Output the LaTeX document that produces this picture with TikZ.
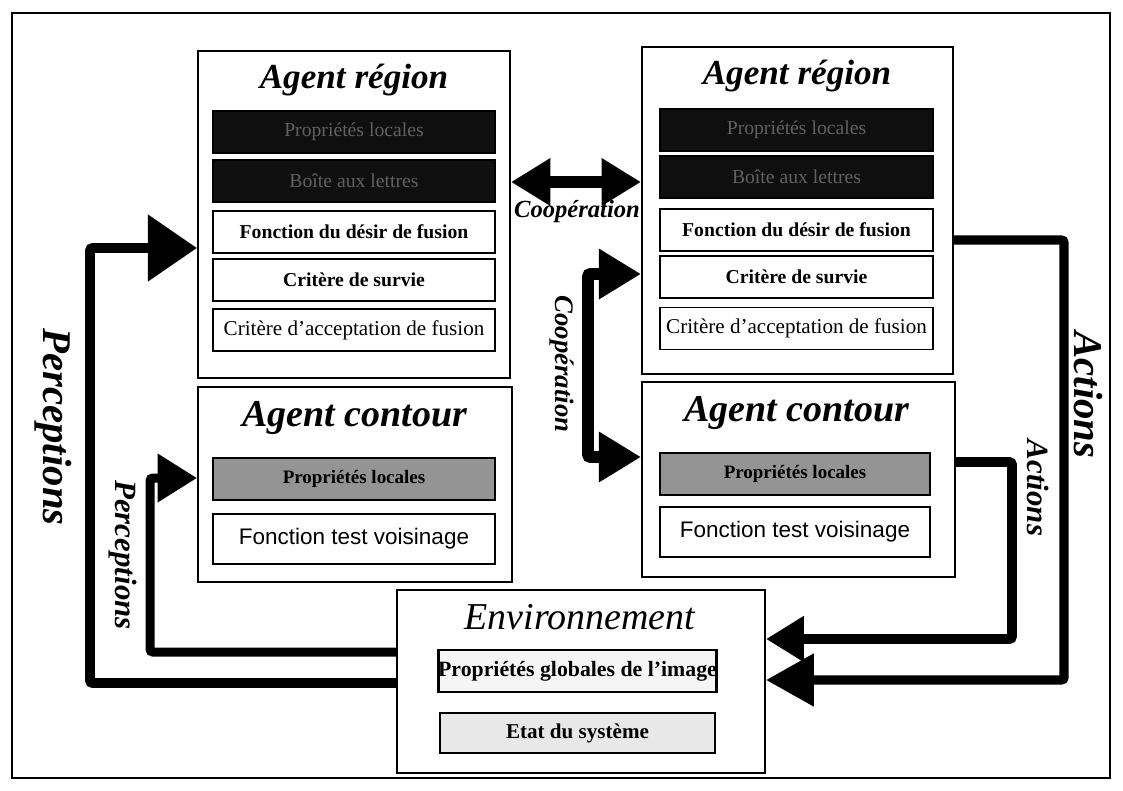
\documentclass[tikz,border=0pt]{standalone}
\usepackage{fontspec}
\setmainfont{Liberation Serif}
\newfontfamily\arialfont{Liberation Sans}
\usetikzlibrary{arrows.meta}

% one drawing unit = one pixel of the final page
\def\pxu{0.025cm}
\newcommand\fsz[1]{\fontsize{#1}{#1}\selectfont}

\begin{document}
\begin{tikzpicture}[x=0.025cm,y=-0.025cm,
  agentbox/.style={draw, line width=1.4pt, inner sep=0pt},
  bar/.style={draw, line width=1.4pt, inner sep=0pt, minimum height=42*\pxu},
  leftbar/.style={bar, minimum width=282*\pxu},
  rightbar/.style={bar, minimum width=273*\pxu},
  darkbar/.style={fill=black!94, text=black!62, font=\fsz{14}},
  itemb/.style={font=\bfseries\fsz{14}},
  itemr/.style={font=\fsz{15}},
  greybar/.style={fill=black!42, font=\bfseries\fsz{13.5}},
  testbar/.style={minimum height=50*\pxu, font=\arialfont\fsz{16}},
  envbar/.style={bar, minimum width=275*\pxu, font=\bfseries\fsz{15.5}},
  title/.style={font=\bfseries\itshape\fsz{25}, inner sep=0pt},
  flowlabel/.style={font=\bfseries\itshape, inner sep=0pt, rotate=-90},
  flow/.style={line width=#1, rounded corners=2pt},
]
\useasboundingbox (0,0) rectangle (1123,790);
\fill[white] (0,0) rectangle (1123,790);

% outer frame
\draw[line width=1pt] (12,13) rectangle (1110,778);

% ---------- left agent region ----------
\node[agentbox, minimum width=312*\pxu, minimum height=327*\pxu] (L) at (354,214.5) {};
\node[title] (Lt) at (354,80) {Agent région};
\node[leftbar, darkbar] (L1) at (354,132) {Propriétés locales};
\node[leftbar, darkbar] (L2) at (354,181) {Boîte aux lettres};
\node[leftbar, itemb] (L3) at (354,232) {Fonction du désir de fusion};
\node[leftbar, itemb] (L4) at (354,280) {Critère de survie};
\node[leftbar, itemr] (L5) at (354,330) {Critère d'acceptation de fusion};

% ---------- left agent contour ----------
\node[agentbox, minimum width=314*\pxu, minimum height=195*\pxu] (LC) at (355,484.5) {};
\node[title, font=\bfseries\itshape\fsz{27}] (LCt) at (355,418) {Agent contour};
\node[leftbar, greybar] (LC1) at (354,479) {Propriétés locales};
\node[leftbar, testbar] (LC2) at (354,539) {Fonction test voisinage};

% ---------- right agent region ----------
\node[agentbox, minimum width=311*\pxu, minimum height=327*\pxu] (R) at (797.5,210.5) {};
\node[title] (Rt) at (797,76) {Agent région};
\node[rightbar, darkbar] (R1) at (796.5,130) {Propriétés locales};
\node[rightbar, darkbar] (R2) at (796.5,177) {Boîte aux lettres};
\node[rightbar, itemb] (R3) at (796.5,230) {Fonction du désir de fusion};
\node[rightbar, itemb] (R4) at (796.5,277) {Critère de survie};
\node[rightbar, itemr] (R5) at (796.5,328.5) {Critère d'acceptation de fusion};

% ---------- right agent contour ----------
\node[agentbox, minimum width=313*\pxu, minimum height=195*\pxu] (RC) at (798.5,479.5) {};
\node[title, font=\bfseries\itshape\fsz{27}] (RCt) at (797,413) {Agent contour};
\node[rightbar, greybar, minimum width=270*\pxu] (RC1) at (795,474) {Propriétés locales};
\node[rightbar, testbar, minimum width=270*\pxu] (RC2) at (795,532) {Fonction test voisinage};

% ---------- environment ----------
\node[agentbox, minimum width=368*\pxu, minimum height=183*\pxu] (E) at (581,681.5) {};
\node[inner sep=0pt, font=\itshape\fsz{27}] (Et) at (580,617) {Environnement};
\node[envbar, line width=2pt, fill=black!4] (E1) at (577.5,671) {Propriétés globales de l'image};
\node[envbar, fill=black!9, minimum height=40*\pxu, font=\bfseries\fsz{15}] (E2) at (577.5,733) {Etat du système};

% ---------- bend points of the flows ----------
\coordinate (pa1) at (90,683);
\coordinate (pa2) at (90,248);
\coordinate (pb1) at (150,652);
\coordinate (pb2) at (150,478);
\coordinate (aa1) at (1064,240);
\coordinate (aa2) at (1064,680);
\coordinate (ab1) at (1012,462);
\coordinate (ab2) at (1012,639);
\coordinate (ch) at (575,182);
\coordinate (cv1) at (588,274);
\coordinate (cv2) at (588,457);

% perceptions: environment -> agents
\draw[flow=7pt, -{Triangle[length=35pt,width=46pt]}]
  (E.west |- pa1) -- (pa1) -- (pa2) -- (L.west |- pa2);
\draw[flow=6.4pt, -{Triangle[length=28pt,width=33pt]}]
  (E.west |- pb1) -- (pb1) -- (pb2) -- (LC.west |- pb2);

% actions: agents -> environment
\draw[flow=6.6pt, -{Triangle[length=34pt,width=36pt]}]
  (R.east |- aa1) -- (aa1) -- (aa2) -- (E.east |- aa2);
\draw[flow=7pt, -{Triangle[length=27pt,width=31pt]}]
  (RC.east |- ab1) -- (ab1) -- (ab2) -- (E.east |- ab2);

% cooperation between agents
\draw[line width=9pt, {Triangle[length=28pt,width=32pt]}-{Triangle[length=28pt,width=32pt]}]
  (L.east |- ch) -- (R.west |- ch);
\draw[flow=8.5pt, {Triangle[length=30pt,width=34pt]}-{Triangle[length=30pt,width=34pt]}]
  (R.west |- cv1) -- (cv1) -- (cv2) -- (RC.west |- cv2);

% flow labels
\node[flowlabel, font=\bfseries\itshape\fsz{29}] (lpa) at (53,427) {Perceptions};
\node[flowlabel, font=\bfseries\itshape\fsz{22}] (lpb) at (123,555) {Perceptions};
\node[flowlabel, font=\bfseries\itshape\fsz{29}] (laa) at (1088,395) {Actions};
\node[flowlabel, font=\bfseries\itshape\fsz{22}] (lab) at (1038,488) {Actions};
\node[inner sep=0pt, font=\bfseries\itshape\fsz{17.5}] (lch) at (577,212) {Coopération};
\node[flowlabel, font=\bfseries\itshape\fsz{19}] (lcv) at (562,364) {Coopération};
\end{tikzpicture}
\end{document}
